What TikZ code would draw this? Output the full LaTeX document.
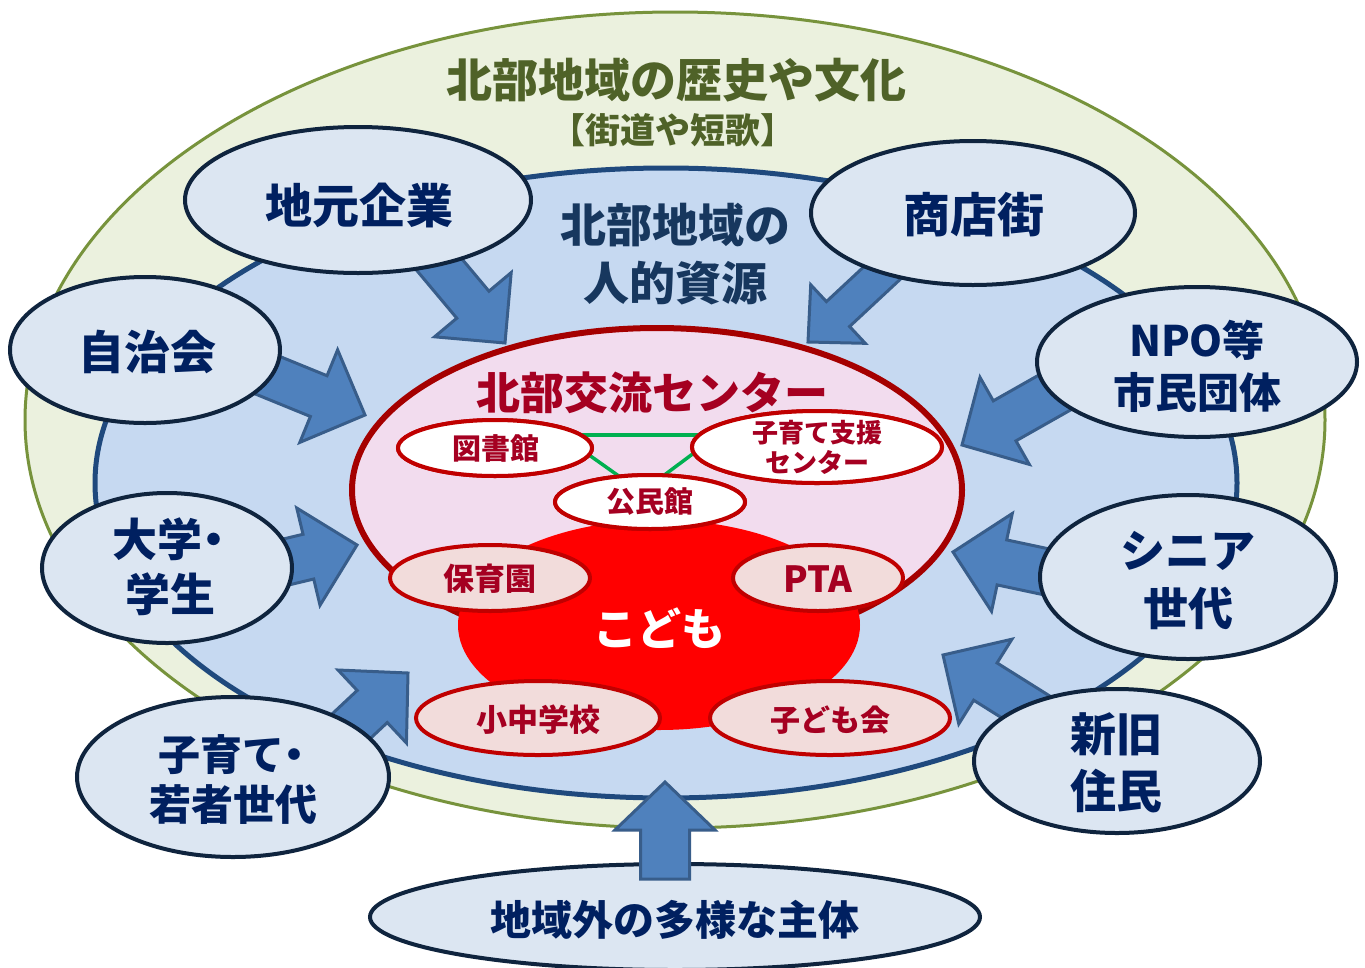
\documentclass[tikz,border=0pt]{standalone}
\usepackage{fontspec}
\newfontfamily\jp{Noto Sans CJK JP Black}
\usetikzlibrary{shapes.geometric,calc}
\definecolor{gfill}{HTML}{EBF1DE}\definecolor{gline}{HTML}{77933C}\definecolor{gtext}{HTML}{4F6228}
\definecolor{bfill}{HTML}{C6D9F1}\definecolor{bline}{HTML}{1F497D}\definecolor{btext}{HTML}{17375E}
\definecolor{pfill}{HTML}{F2DCEE}\definecolor{pline}{HTML}{A50000}\definecolor{ptext}{HTML}{A50021}
\definecolor{sfill}{HTML}{DCE6F2}\definecolor{sline}{HTML}{0F243E}\definecolor{stext}{HTML}{002060}
\definecolor{afill}{HTML}{4F81BD}\definecolor{aline}{HTML}{385D8A}
\definecolor{rline}{HTML}{C00000}\definecolor{rfill}{HTML}{F2DCDB}\definecolor{lgreen}{HTML}{00B050}
\definecolor{kred}{HTML}{FF0000}
\newcommand\myblockarrow[5]{%
  \coordinate (nk) at ($(#2)!#5!(#1)$);
  \draw[barrow] ($(#1)!#3!90:(#2)$) -- ($(nk)!#3!90:(#2)$) -- ($(nk)!#4!90:(#2)$) -- (#2)
    -- ($(nk)!#4!-90:(#2)$) -- ($(nk)!#3!-90:(#2)$) -- ($(#1)!#3!-90:(#2)$) -- cycle;}
\begin{document}
\begin{tikzpicture}[x=1pt,y=-1pt,
  ell/.style={ellipse, inner sep=0pt, outer sep=0pt},
  sat/.style={ell, fill=sfill, draw=sline, line width=4pt},
  wsmall/.style={ell, fill=white, draw=rline, line width=4pt},
  psmall/.style={ell, fill=rfill, draw=rline, line width=4pt},
  sattext/.style={font=\jp\fontsize{46}{56}\selectfont, text=stext, align=center, inner sep=0pt},
  redtext/.style={font=\jp\fontsize{29}{30}\selectfont, text=ptext, align=center, inner sep=0pt},
  barrow/.style={fill=afill, draw=aline, line width=3pt, line join=miter},
  glink/.style={draw=lgreen, line width=3.5pt}]
\fill[white] (0,0) rectangle (1365,967);
\useasboundingbox (0,0) rectangle (1365,967);

% layers
\node[ell, fill=gfill, draw=gline, line width=3pt, minimum width=1300pt, minimum height=816pt] (outer) at (675,420) {};
\node[ell, fill=bfill, draw=bline, line width=5pt, minimum width=1142pt, minimum height=630pt] (blue) at (666,483) {};
\node[font=\jp\fontsize{46}{50}\selectfont, text=gtext, inner sep=0pt] (histT) at (676,80) {北部地域の歴史や文化};
\node[font=\jp\fontsize{35}{36}\selectfont, text=gtext, inner sep=0pt] (kaidoT) at (673,130) {【街道や短歌】};
\node[font=\jp\fontsize{46}{58}\selectfont, text=btext, align=center, inner sep=0pt] (jinT) at (675,254) {北部地域の\\人的資源};

\node[ell, fill=pfill, draw=pline, line width=6pt, minimum width=610pt, minimum height=324pt] (center) at (657,490) {};
\node[ell, fill=kred, minimum width=402pt, minimum height=210pt] (kodomo) at (659,625) {};
\node[font=\jp\fontsize{44}{48}\selectfont, text=ptext, inner sep=0pt] (centerT) at (652,393) {北部交流センター};

% three facilities, linked in green
\node[wsmall, minimum width=194pt, minimum height=56pt] (tosho) at (495,448) {};
\node[wsmall, minimum width=250pt, minimum height=72pt] (kosodate) at (817,447) {};
\node[wsmall, minimum width=190pt, minimum height=54pt] (komin) at (650,502) {};
\draw[glink] ([xshift=65pt,yshift=13pt]tosho.center) -- ([xshift=-57pt,yshift=12pt]kosodate.center);
\draw[glink] ([xshift=80pt,yshift=3pt]tosho.center) -- ([xshift=-20pt,yshift=18pt]komin.center);
\draw[glink] ([xshift=-107pt,yshift=6pt]kosodate.center) -- ([xshift=5pt,yshift=20pt]komin.center);
\node[wsmall, minimum width=194pt, minimum height=56pt] (tosho2) at (tosho) {};
\node[wsmall, minimum width=250pt, minimum height=72pt] (kosodate2) at (kosodate) {};
\node[wsmall, minimum width=190pt, minimum height=54pt] (komin2) at (komin) {};
\node[redtext] (toshoT) at (496,448) {図書館};
\node[redtext, font=\jp\fontsize{26}{30}\selectfont] (kosodateT) at (817,447) {子育て支援\\センター};
\node[redtext] (kominT) at (650,502) {公民館};

\node[psmall, minimum width=200pt, minimum height=66pt] (hoiku) at (490,578) {};
\node[psmall, minimum width=170pt, minimum height=66pt] (pta) at (818,578) {};
\node[psmall, minimum width=244pt, minimum height=74pt] (shochu) at (538,718) {};
\node[psmall, minimum width=240pt, minimum height=74pt] (kodomokai) at (830,718) {};
\node[redtext, font=\jp\fontsize{31}{32}\selectfont] (hoikuT) at (490,579) {保育園};
\node[redtext, font=\jp\fontsize{36}{36}\selectfont] (ptaT) at (818,579) {PTA};
\node[redtext, font=\jp\fontsize{31}{32}\selectfont] (shochuT) at (538,720) {小中学校};
\node[redtext, font=\jp\fontsize{30}{32}\selectfont] (kodomokaiT) at (830,720) {子ども会};
\node[font=\jp\fontsize{44}{46}\selectfont, text=white, inner sep=0pt] (kodomoT) at (659,628) {こども};

% arrows
\coordinate (t1) at (422,244); \coordinate (p1) at (505,343);
\coordinate (t2) at (896,260); \coordinate (p2) at (808,342);
\coordinate (t3) at (245,366); \coordinate (p3) at (365,415);
\coordinate (t4) at (1075,381); \coordinate (p4) at (962,445);
\coordinate (t5) at (240,573); \coordinate (p5) at (357,545);
\coordinate (t6) at (1080,579); \coordinate (p6) at (953,552);
\coordinate (t7) at (313,762); \coordinate (p7) at (408,673);
\coordinate (t8) at (1053,724); \coordinate (p8) at (943,655);
\coordinate (t9) at (665,879); \coordinate (p9) at (665,782);
\myblockarrow{t1}{p1}{21pt}{50pt}{50pt}
\myblockarrow{t2}{p2}{17pt}{40pt}{41pt}
\myblockarrow{t3}{p3}{22pt}{50pt}{50pt}
\myblockarrow{t4}{p4}{23pt}{50pt}{49pt}
\myblockarrow{t5}{p5}{23pt}{50pt}{50pt}
\myblockarrow{t6}{p6}{23pt}{50pt}{50pt}
\myblockarrow{t7}{p7}{22pt}{50pt}{49pt}
\myblockarrow{t8}{p8}{22pt}{50pt}{50pt}

% satellites
\node[sat, minimum width=346pt, minimum height=146pt] (jimoto) at (358,200) {};
\node[sattext, font=\jp\fontsize{47}{56}\selectfont] (jimotoT) at (359,205) {地元企業};
\node[sat, minimum width=324pt, minimum height=144pt] (shoten) at (973,213) {};
\node[sattext, font=\jp\fontsize{47}{56}\selectfont] (shotenT) at (974,215) {商店街};
\node[sat, minimum width=270pt, minimum height=146pt] (jichi) at (145,350) {};
\node[sattext] (jichiT) at (147,352) {自治会};
\node[sat, minimum width=320pt, minimum height=150pt] (npo) at (1197,362) {};
\node[sattext, font=\jp\fontsize{42}{52}\selectfont] (npoT) at (1197,366) {NPO等\\市民団体};
\node[sat, minimum width=250pt, minimum height=150pt] (daigaku) at (167,568) {};
\node[sattext, font=\jp\fontsize{45}{55}\selectfont] (daigakuT) at (170,567) {大学\kern-0.25em・\kern-0.2em\\学生};
\node[sat, minimum width=296pt, minimum height=164pt] (senior) at (1188,577) {};
\node[sattext, font=\jp\fontsize{45}{58}\selectfont] (seniorT) at (1188,581) {シニア\\世代};
\node[sat, minimum width=312pt, minimum height=160pt] (wakamono) at (233,777) {};
\node[sattext, font=\jp\fontsize{42}{50}\selectfont] (wakamonoT) at (233,780) {子育て\kern-0.25em・\kern-0.2em\\若者世代};
\node[sat, minimum width=286pt, minimum height=144pt] (shinkyu) at (1117,761) {};
\node[sattext, font=\jp\fontsize{46}{57}\selectfont] (shinkyuT) at (1116,763) {新旧\\住民};
\node[sat, minimum width=610pt, minimum height=106pt] (chiikigai) at (675,917) {};
\node[sattext, font=\jp\fontsize{41}{50}\selectfont] (chiikigaiT) at (675,920) {地域外の多様な主体};

\myblockarrow{t9}{p9}{24.5pt}{50pt}{48pt}
\end{tikzpicture}
\end{document}
